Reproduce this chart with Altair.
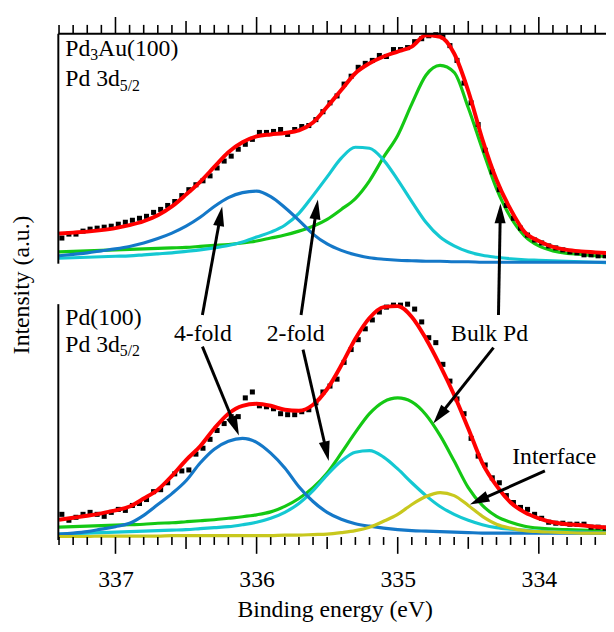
import math
import altair as alt
import pandas as pd

# ---------------- data ----------------
E_FIT = [337.4, 337.3, 337.2, 337.1, 337.0, 336.9, 336.8, 336.7, 336.6, 336.5,
         336.4, 336.3, 336.2, 336.1, 336.0, 335.9, 335.8, 335.7, 335.6, 335.5,
         335.4, 335.3, 335.2, 335.1, 335.0, 334.9, 334.8, 334.7, 334.6, 334.5,
         334.4, 334.3, 334.2, 334.1, 334.0, 333.9, 333.8, 333.7, 333.6, 333.5]

# Pd3Au(100) (upper spectrum)
TOP_FIT = [30.5, 31.5, 32.5, 34, 36, 39, 43, 49, 58, 70, 83, 98, 113, 123, 129, 131,
           132.5, 135, 143, 159, 176, 193, 203, 210, 215, 220, 231.5, 230, 213, 175,
           126, 85, 55, 32, 23, 17, 14, 12.5, 11.5, 10.5]
TOP_BULK = [12, 12.5, 13, 13.5, 14, 14.5, 15, 15.5, 16, 16.5, 17.5, 18.5, 19.5, 21, 23,
            26, 29, 33, 38, 45, 55, 66, 84, 108, 130, 162, 191, 201, 194, 158, 116, 76,
            47, 28, 18, 13, 10.5, 9.5, 8, 7]
TOP_TWO = [5.5, 6, 6.5, 7, 7.5, 8, 9, 10, 11, 12.5, 14, 16, 18.5, 22, 27, 32, 39, 51, 69,
           88, 107, 118, 117, 105, 85, 63, 42, 27, 18, 12, 8.5, 6.5, 5, 4, 3.5, 3, 2.5,
           2, 1.5, 1]
TOP_FOUR = [8, 9.5, 11, 13, 15, 17.5, 21, 25.5, 31, 38, 47, 58, 67, 72, 73.5, 68, 57, 44,
            30, 20, 13.5, 9, 6, 4.5, 3.5, 3, 2.5, 2.5, 2, 2, 1.5, 1.5, 1.5, 1.5, 1.5, 1.5,
            1.5, 1.5, 1.5, 1.5]

# Pd(100) (lower spectrum)
BOT_FIT = [20.5, 22.5, 24.5, 27, 30, 34, 42, 51, 65, 81, 95, 113, 128, 136, 138, 136,
           132, 131, 137, 153, 177, 204, 225, 236, 237, 226, 204, 177, 147, 113, 78, 55,
           38, 28, 22, 18, 16, 15, 13.5, 12.5]
BOT_BULK = [13, 13.5, 14, 14.5, 15, 15.5, 16, 17, 17.5, 18.5, 19.5, 20.5, 22, 23.5, 25.5,
            28.5, 34, 42, 53, 68, 88, 109, 128, 140, 144, 140, 127, 106, 80, 53, 35, 24,
            18, 14, 12, 11, 10.5, 10, 9.5, 9]
BOT_TWO = [6, 6.5, 7, 7.5, 8, 8.5, 9, 9.5, 10, 10.5, 11.5, 12.5, 13.5, 15.5, 18, 22, 28,
           37, 50, 66, 80, 89, 90.5, 84, 72, 58, 45, 34, 26, 20, 15.5, 12.5, 11, 10, 9,
           8.5, 8, 8, 7.5, 7.5]
BOT_FOUR = [6, 7, 8.5, 11, 13.5, 17, 25, 36, 47, 60, 78, 92, 100, 103, 99, 88, 73, 54, 39,
            28, 21, 16.5, 14, 12, 10.5, 9.5, 9, 8.5, 8, 7.5, 7, 7, 7, 7, 7, 7, 7, 7, 7, 7]
BOT_IFACE = [3.5, 3.5, 3.5, 4, 4, 4, 4, 4, 4.5, 4.5, 4.5, 4.5, 4.5, 4.5, 4.5, 4.5, 5, 5,
             5.5, 6, 7.5, 9.5, 13, 19, 26, 36, 44, 48, 45, 35, 24, 16, 12, 9.5, 8.5, 8,
             7.5, 7, 7, 7]

# measured points (0.05 eV steps)
E_PTS = [round(337.38 - 0.05 * i, 2) for i in range(78)]
TOP_PTS = [26, 30, 30, 33, 35, 36, 37, 38, 40, 42, 44, 46, 48, 52, 55, 59, 63, 69, 75, 80,
           84, 89, 97, 104, 109, 116, 121, 126, 133, 133, 134, 136, 131, 136, 139, 140,
           146, 154, 163, 170, 182, 190, 199, 203, 206, 211, 210, 217, 217, 219, 225, 228,
           231, 232, 230, 221, 206, 183, 163, 141, 115, 93, 75, 59, 46, 36, 29, 24, 21,
           18, 16, 14, 12, 11, 9, 9, 8, 8]
BOT_PTS = [26, 20, 23, 26, 28, 26, 24, 28, 31, 30, 35, 37, 41, 49, 51, 58, 67, 70, 71, 87,
           93, 102, 111, 118, 125, 125, 144, 150, 136, 135, 133, 128, 127, 127, 130, 132,
           139, 150, 156, 163, 180, 193, 203, 214, 223, 231, 236, 238, 238, 239, 234, 221,
           205, 200, 178, 161, 143, 128, 103, 85, 76, 63, 58, 45, 38, 33, 31, 26, 22, 18,
           17, 17, 16, 16, 16, 13, 13, 12]

TICK_LABELS = [334, 335, 336, 337]
TOP_OFFSET = 280          # vertical offset of the upper spectrum

# ---------------- layout ----------------
E_MIN, E_MAX = 333.524, 337.405
Y_MAX = 513
W, H = 555, 513
PX_E = W / (E_MAX - E_MIN)
PX_Y = H / Y_MAX
FONT = "Liberation Serif, Times New Roman, serif"

COLORS = {"bulk": "#14c814", "two": "#14c8d2", "four": "#1478c8", "iface": "#c8c81e"}

rows = []
for panel, off, series in [
    ("top", TOP_OFFSET, {"bulk": TOP_BULK, "two": TOP_TWO, "four": TOP_FOUR}),
    ("bot", 0, {"bulk": BOT_BULK, "two": BOT_TWO, "four": BOT_FOUR, "iface": BOT_IFACE}),
]:
    for name, vals in series.items():
        for e, v in zip(E_FIT, vals):
            rows.append({"E": e, "Y": v + off, "series": name, "key": panel + name})
comp_df = pd.DataFrame(rows)

fit_rows = []
for panel, off, vals in [("top", TOP_OFFSET, TOP_FIT), ("bot", 0, BOT_FIT)]:
    for e, v in zip(E_FIT, vals):
        fit_rows.append({"E": e, "Y": v + off, "key": panel})
fit_df = pd.DataFrame(fit_rows)

pts_df = pd.DataFrame(
    [{"E": e, "Y": v + TOP_OFFSET} for e, v in zip(E_PTS, TOP_PTS)]
    + [{"E": e, "Y": v} for e, v in zip(E_PTS, BOT_PTS)]
)

xscale = alt.Scale(domain=[E_MIN, E_MAX], reverse=True, nice=False, zero=False)
yscale = alt.Scale(domain=[0, Y_MAX], nice=False, zero=False)
xaxis = alt.Axis(values=TICK_LABELS, format="d", ticks=False, domain=False, grid=False,
                 labelFont=FONT, labelFontSize=24, labelColor="black",
                 labelPadding=47, labelBaseline="alphabetic",
                 title="Binding energy (eV)", titleFont=FONT, titleFontSize=24,
                 titleFontWeight="normal", titleColor="black",
                 titleBaseline="alphabetic", titleY=78, titleX=280)
yaxis = alt.Axis(labels=False, ticks=False, domain=False, grid=False,
                 title="Intensity (a.u.)", titleFont=FONT, titleFontSize=24,
                 titleFontWeight="normal", titleColor="black", titleAngle=270,
                 titleAlign="center", titleBaseline="alphabetic", titleX=-30, titleY=254)
X = alt.X("E:Q", scale=xscale, axis=xaxis)
Y = alt.Y("Y:Q", scale=yscale, axis=yaxis)

comp = alt.Chart(comp_df).mark_line(strokeWidth=3.2, interpolate="monotone").encode(
    x=X, y=Y,
    color=alt.Color("series:N", scale=alt.Scale(domain=list(COLORS.keys()),
                                                range=list(COLORS.values())), legend=None),
    detail="key:N",
)
pts = alt.Chart(pts_df).mark_square(size=26, color="black", opacity=1).encode(x=X, y=Y)
fit = alt.Chart(fit_df).mark_line(strokeWidth=4, color="#ff0000",
                                  interpolate="monotone").encode(x=X, y=Y, detail="key:N")

# frame lines
vlines = pd.DataFrame([
    {"E": E_MAX, "Y": TOP_OFFSET, "Y2": Y_MAX},
    {"E": E_MAX, "Y": 0, "Y2": 239},
])
frame_v = alt.Chart(vlines).mark_rule(color="black", strokeWidth=2).encode(
    x=X, y=Y, y2="Y2:Q")
hline = pd.DataFrame([{"E": E_MAX, "E2": E_MIN, "Y": Y_MAX}])
frame_h = alt.Chart(hline).mark_rule(color="black", strokeWidth=2).encode(
    x=X, x2="E2:Q", y=Y)

# tick marks (top, pointing up; bottom, pointing down)
LEN_TOP = {"major": 17, "medium": 13, "minor": 9}
LEN_BOT = {"major": 17, "medium": 12, "minor": 8}
tick_rows = []
for k in range(39):
    e = round(333.6 + 0.1 * k, 1)
    d = round(e * 10) % 10
    kind = "major" if d == 0 else ("medium" if d == 5 else "minor")
    tick_rows.append({"E": e, "Y": Y_MAX, "Y2": Y_MAX + LEN_TOP[kind]})
    tick_rows.append({"E": e, "Y": 3, "Y2": 3 - LEN_BOT[kind]})
ticks = alt.Chart(pd.DataFrame(tick_rows)).mark_rule(color="black", strokeWidth=1.6).encode(
    x=X, y=Y, y2="Y2:Q")

# arrows: (E_tail, Y_tail, E_tip, Y_tip)
ARROWS = [
    (336.384, 228, 336.244, 338),
    (336.384, 196, 336.125, 106),
    (335.685, 228, 335.566, 345),
    (335.671, 193, 335.489, 80),
    (334.286, 228, 334.272, 341),
    (334.321, 195, 334.748, 118),
    (333.957, 70, 334.489, 36),
]
shaft_rows, head_rows = [], []
for e0, y0, et, yt in ARROWS:
    dxp = -(et - e0) * PX_E
    dyp = -(yt - y0) * PX_Y
    L = math.hypot(dxp, dyp)
    ux, uy = dxp / L, dyp / L
    e_end = et + 12 * ux / PX_E
    y_end = yt + 12 * uy / PX_Y
    shaft_rows.append({"E": e0, "Y": y0, "E2": e_end, "Y2": y_end})
    ang = math.degrees(math.atan2(ux, -uy)) % 360
    head_rows.append({"E": et, "Y": yt, "ang": ang})
shafts = alt.Chart(pd.DataFrame(shaft_rows)).mark_rule(color="black", strokeWidth=3).encode(
    x=X, y=Y, x2="E2:Q", y2="Y2:Q")
heads = alt.Chart(pd.DataFrame(head_rows)).mark_point(
    shape="M0,0L0.28,1L-0.28,1Z", size=1600, filled=True, color="black",
    opacity=1, strokeWidth=0).encode(x=X, y=Y, angle=alt.Angle("ang:Q", scale=None))

# text
E_LAB = 337.356
def txt(df, **kw):
    return alt.Chart(pd.DataFrame(df)).mark_text(
        font=FONT, color="black", baseline="alphabetic", **kw).encode(
        x=X, y=Y, text="t:N")

t_main = txt([{"E": E_LAB, "Y": 490, "t": "Pd"},
              {"E": E_LAB, "Y": 460, "t": "Pd 3d"},
              {"E": E_LAB, "Y": 218, "t": "Pd(100)"},
              {"E": E_LAB, "Y": 191, "t": "Pd 3d"}], align="left", fontSize=24)
t_sub3 = txt([{"E": E_LAB, "Y": 490, "t": "3"}], align="left", fontSize=16, dx=25.3, dy=4)
t_au = txt([{"E": E_LAB, "Y": 490, "t": "Au(100)"}], align="left", fontSize=24, dx=33.3)
t_sub52 = txt([{"E": E_LAB, "Y": 460, "t": "5/2"},
               {"E": E_LAB, "Y": 191, "t": "5/2"}], align="left", fontSize=16, dx=55.3, dy=5)
t_lab = txt([{"E": 336.381, "Y": 202, "t": "4-fold"},
             {"E": 335.723, "Y": 202, "t": "2-fold"},
             {"E": 334.349, "Y": 202, "t": "Bulk Pd"},
             {"E": 333.891, "Y": 77, "t": "Interface"}], align="center", fontSize=24)

chart = alt.layer(
    comp, pts, fit, frame_v, frame_h, ticks, shafts, heads,
    t_main, t_sub3, t_au, t_sub52, t_lab,
).properties(
    width=W, height=H,
    padding={"left": 51, "top": 22, "right": 0, "bottom": 80},
    autosize=alt.AutoSizeParams(type="none"),
).configure_view(stroke=None)

chart.save("out.html", embed_options={"renderer": "svg", "actions": False})
